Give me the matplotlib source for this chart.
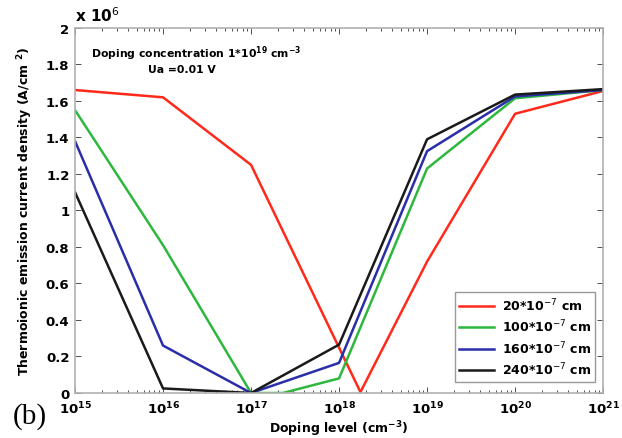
import matplotlib
matplotlib.use("Agg")
import matplotlib.pyplot as plt
from matplotlib.ticker import FixedLocator, NullFormatter

plt.rcParams['font.family'] = ['DejaVu Sans']

x_red = [1e15, 1e16, 1e17, 1.75e18, 1e19, 1e20, 1e21]
y_red = [1.66, 1.62, 1.25, 0.005, 0.72, 1.53, 1.655]
x_green = [1e15, 1e16, 1e17, 2.3e17, 1e18, 1e19, 1e20, 1e21]
y_green = [1.55, 0.81, 0.0, 0.0, 0.08, 1.23, 1.615, 1.66]
x_blue = [1e15, 1e16, 1e17, 1e18, 1e19, 1e20, 1e21]
y_blue = [1.38, 0.26, 0.0, 0.165, 1.325, 1.625, 1.66]
x_black = [1e15, 1e16, 1e17, 1e18, 1e19, 1e20, 1e21]
y_black = [1.10, 0.025, 0.0, 0.265, 1.39, 1.635, 1.665]
labels = [r'20*10$^{-7}$ cm', r'100*10$^{-7}$ cm', r'160*10$^{-7}$ cm', r'240*10$^{-7}$ cm']
colors = ['#ff2a1a', '#2db83d', '#2a2ea8', '#1a1a1a']
xtick_exps = [15, 16, 17, 18, 19, 20, 21]
yticks = [0, 0.2, 0.4, 0.6, 0.8, 1, 1.2, 1.4, 1.6, 1.8, 2]
ytick_labels = ['0', '0.2', '0.4', '0.6', '0.8', '1', '1.2', '1.4', '1.6', '1.8', '2']

fig = plt.figure(figsize=(6.22, 4.39), dpi=100)
ax = fig.add_axes([0.1206, 0.1025, 0.849, 0.8315])

series = [(x_red, y_red), (x_green, y_green), (x_blue, y_blue), (x_black, y_black)]
for (xs, ys), c, lab in zip(series, colors, labels):
    ax.plot(xs, ys, color=c, lw=1.8, label=lab)

ax.set_xscale('log')
ax.set_xlim(1e15, 1e21)
ax.set_ylim(0, 2)
major = [10.0 ** e for e in xtick_exps]
minor = [m * 10.0 ** e for e in xtick_exps[:-1] for m in range(2, 10)]
ax.xaxis.set_major_locator(FixedLocator(major))
ax.set_xticklabels([r'10$^{\mathbf{%d}}$' % e for e in xtick_exps])
ax.xaxis.set_minor_locator(FixedLocator(minor))
ax.xaxis.set_minor_formatter(NullFormatter())
ax.set_yticks(yticks)
ax.set_yticklabels(ytick_labels)

for sp in ax.spines.values():
    sp.set_color('#b0b0b0')
    sp.set_linewidth(1.2)

ax.tick_params(axis='both', which='both', direction='in', top=True, right=True,
               color='#333333', width=0.6)
ax.tick_params(axis='both', which='major', length=4, labelsize=9.5)
ax.tick_params(axis='both', which='minor', length=2)
for lbl in ax.get_xticklabels() + ax.get_yticklabels():
    lbl.set_fontweight('bold')
ax.tick_params(axis='x', pad=5)
ax.tick_params(axis='y', pad=4)

ax.set_xlabel(r'Doping level (cm$^{\mathbf{-3}}$)', fontweight='bold', fontsize=9, labelpad=1)
ax.set_ylabel(r'Thermoionic emission current density (A/cm $^{\mathbf{2}}$)', fontweight='bold',
              fontsize=9, labelpad=8)

ax.text(0.0, 1.012, r'x 10$^{6}$', transform=ax.transAxes, fontsize=11, fontweight='bold',
        ha='left', va='bottom')
ax.text(0.03, 0.958, r'Doping concentration 1*10$^{\mathbf{19}}$ cm$^{\mathbf{-3}}$', transform=ax.transAxes,
        fontsize=7.8, fontweight='bold', ha='left', va='top')
ax.text(0.138, 0.9, 'Ua =0.01 V', transform=ax.transAxes,
        fontsize=7.8, fontweight='bold', ha='left', va='top')

leg = ax.legend(loc='lower right', bbox_to_anchor=(0.985, 0.03), fontsize=9, frameon=True,
                fancybox=False, edgecolor='#808080', handlelength=2.8, borderpad=0.35,
                labelspacing=0.4, handletextpad=0.6, borderaxespad=0.0)
leg.get_frame().set_linewidth(1.0)
for t in leg.get_texts():
    t.set_fontweight('bold')

fig.text(0.02, 0.02, '(b)', fontsize=21, family=['Liberation Serif', 'DejaVu Serif'],
         ha='left', va='bottom')

fig.savefig('out.png', dpi=100)
